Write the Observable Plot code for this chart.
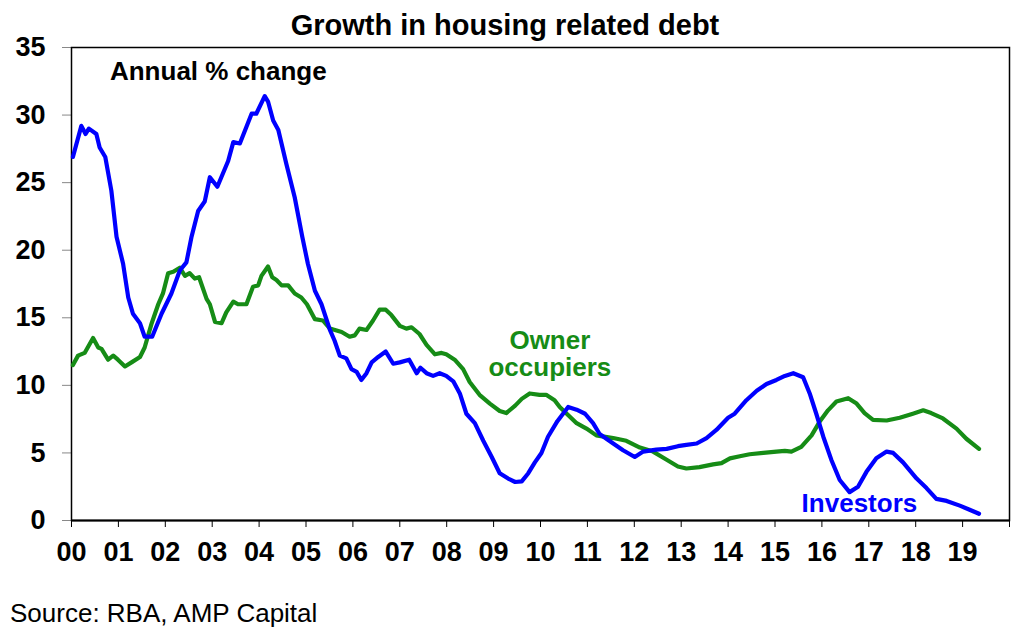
<!DOCTYPE html>
<html><head><meta charset="utf-8">
<script src="https://cdn.jsdelivr.net/npm/d3@7"></script>
<script src="https://cdn.jsdelivr.net/npm/@observablehq/plot@0.6"></script>
<style>
  body { margin: 0; background: #fff; font-family: "Liberation Sans", Arial, sans-serif; }
  #wrap { position: relative; width: 1024px; height: 640px; overflow: hidden; }
  #title { position: absolute; top: 9px; left: 0; width: 1010px; text-align: center;
           font-size: 29px; line-height: 33px; font-weight: bold; color: #000; z-index: 2; }
  #caption { margin-top: 18px; padding-left: 10px; font-size: 26px; line-height: 30px; color: #000; }
</style>
</head><body>
<div id="wrap">
  <div id="title">Growth in housing related debt</div>
  <div id="chart"></div>
  <div id="caption">Source: RBA, AMP Capital</div>
</div>
<script>
// Investors: annual % change in housing debt (decimal year, value)
const investorYears = [2000.03,2000.21,2000.30,2000.37,2000.53,2000.60,2000.72,2000.85,2000.96,2001.10,2001.21,2001.31,2001.46,2001.56,2001.72,2001.92,2002.13,2002.31,2002.45,2002.56,2002.70,2002.84,2002.95,2003.11,2003.34,2003.45,2003.59,2003.84,2003.94,2004.12,2004.19,2004.30,2004.41,2004.58,2004.76,2004.92,2005.04,2005.19,2005.33,2005.51,2005.61,2005.72,2005.86,2005.97,2006.08,2006.18,2006.29,2006.40,2006.54,2006.70,2006.86,2007.00,2007.20,2007.36,2007.44,2007.57,2007.71,2007.85,2007.99,2008.14,2008.28,2008.42,2008.60,2008.78,2008.96,2009.13,2009.31,2009.46,2009.60,2009.74,2009.88,2010.02,2010.16,2010.36,2010.59,2010.77,2010.95,2011.12,2011.26,2011.55,2011.76,2012.01,2012.19,2012.47,2012.69,2012.93,2013.11,2013.33,2013.54,2013.75,2014.00,2014.14,2014.39,2014.61,2014.82,2015.03,2015.21,2015.39,2015.60,2015.74,2015.88,2016.03,2016.20,2016.38,2016.59,2016.77,2016.95,2017.16,2017.38,2017.52,2017.73,2018.02,2018.23,2018.44,2018.66,2018.94,2019.15,2019.35];
const investorValues = [26.9,29.2,28.6,29.0,28.6,27.6,26.9,24.4,21.0,19.0,16.5,15.3,14.6,13.6,13.6,15.3,16.8,18.5,19.1,21.0,22.9,23.6,25.4,24.7,26.6,28.0,27.9,30.1,30.1,31.4,31.0,29.6,28.9,26.4,23.9,21.0,19.0,17.0,16.0,14.1,13.3,12.2,12.0,11.2,11.0,10.4,10.9,11.7,12.1,12.5,11.6,11.7,11.9,10.9,11.3,10.9,10.7,10.9,10.7,10.3,9.4,7.9,7.2,5.9,4.7,3.5,3.1,2.85,2.9,3.5,4.3,5.0,6.2,7.35,8.4,8.2,7.9,7.2,6.4,5.7,5.2,4.7,5.1,5.25,5.3,5.5,5.6,5.7,6.1,6.7,7.6,7.9,8.9,9.6,10.1,10.4,10.7,10.9,10.6,9.4,7.9,6.2,4.5,3.0,2.1,2.5,3.6,4.6,5.1,5.0,4.3,3.1,2.4,1.6,1.45,1.1,0.8,0.5];

// Owner occupiers
const ownerYears = [2000.03,2000.14,2000.28,2000.46,2000.57,2000.64,2000.78,2000.89,2000.99,2001.14,2001.28,2001.46,2001.56,2001.71,2001.85,2001.95,2002.06,2002.17,2002.31,2002.42,2002.52,2002.63,2002.72,2002.88,2002.95,2003.06,2003.20,2003.30,2003.45,2003.55,2003.73,2003.87,2003.98,2004.05,2004.19,2004.28,2004.37,2004.48,2004.62,2004.76,2004.90,2005.02,2005.19,2005.36,2005.51,2005.76,2005.93,2006.04,2006.14,2006.29,2006.43,2006.57,2006.70,2006.82,2007.00,2007.14,2007.25,2007.42,2007.57,2007.75,2007.89,2007.99,2008.17,2008.35,2008.49,2008.70,2008.92,2009.13,2009.27,2009.46,2009.60,2009.77,2009.98,2010.12,2010.30,2010.41,2010.77,2010.98,2011.19,2011.55,2011.83,2012.12,2012.40,2012.69,2012.93,2013.11,2013.39,2013.68,2013.86,2014.04,2014.25,2014.46,2014.75,2015.03,2015.21,2015.35,2015.56,2015.78,2015.95,2016.13,2016.31,2016.56,2016.74,2016.91,2017.09,2017.38,2017.66,2017.94,2018.16,2018.33,2018.58,2018.87,2019.08,2019.35];
const ownerValues = [11.5,12.2,12.4,13.5,12.8,12.7,11.9,12.2,11.9,11.4,11.7,12.1,12.8,14.6,16.0,16.8,18.3,18.4,18.7,18.1,18.3,17.9,18.0,16.4,16.0,14.7,14.6,15.4,16.2,16.0,16.0,17.3,17.4,18.1,18.8,18.0,17.8,17.4,17.4,16.8,16.5,16.0,14.9,14.8,14.2,13.95,13.6,13.7,14.2,14.1,14.8,15.6,15.6,15.2,14.4,14.2,14.3,13.8,13.0,12.3,12.4,12.3,11.9,11.2,10.25,9.3,8.65,8.1,7.95,8.5,9.0,9.4,9.3,9.3,8.9,8.4,7.2,6.8,6.3,6.1,5.9,5.4,5.1,4.5,4.0,3.85,3.95,4.15,4.25,4.6,4.75,4.9,5.0,5.1,5.15,5.1,5.45,6.3,7.3,8.15,8.8,9.05,8.65,7.95,7.45,7.4,7.6,7.9,8.15,7.95,7.55,6.8,6.05,5.3];

// Axis ticks and labels
const yTicks = [0, 5, 10, 15, 20, 25, 30, 35];
const xTicks = [2000,2001,2002,2003,2004,2005,2006,2007,2008,2009,2010,2011,2012,2013,2014,2015,2016,2017,2018,2019,2020];
const xTickLabels = ["00","01","02","03","04","05","06","07","08","09","10","11","12","13","14","15","16","17","18","19",""];

const BLUE = "#0000ff";
const GREEN = "#168c16";

const investors = investorYears.map((x, i) => ({x, v: investorValues[i]}));
const owners = ownerYears.map((x, i) => ({x, v: ownerValues[i]}));

const chart = Plot.plot({
  width: 1024,
  height: 580,
  marginTop: 47,
  marginBottom: 60,
  marginLeft: 71,
  marginRight: 15,
  style: { fontFamily: "'Liberation Sans', Arial, sans-serif", color: "#000", background: "#fff" },
  x: { domain: [2000, 2020] },
  y: { domain: [0, 35] },
  marks: [
    Plot.axisY({ ticks: yTicks, tickSize: 9, tickPadding: 17, fontSize: 27, fontWeight: "bold",
                 stroke: "#888", fill: "#000", label: null }),
    Plot.axisX({ ticks: xTicks, tickFormat: (d) => xTickLabels[xTicks.indexOf(d)], tickSize: 7,
                 tickPadding: 14, fontSize: 27, fontWeight: "bold", stroke: "#000", fill: "#000", label: null }),
    Plot.frame({ stroke: "#000", strokeWidth: 1.5 }),
    Plot.ruleY([0], { stroke: "#000", strokeWidth: 2 }),
    Plot.line(owners, { x: "x", y: "v", stroke: GREEN, strokeWidth: 4.2, strokeLinejoin: "round", strokeLinecap: "round" }),
    Plot.line(investors, { x: "x", y: "v", stroke: BLUE, strokeWidth: 4.2, strokeLinejoin: "round", strokeLinecap: "round" }),
    Plot.text(["Annual % change"], { x: 2000.82, y: 33.2, text: (d) => d, textAnchor: "start",
                 fontSize: 26, fontWeight: "bold", fill: "#000" }),
    Plot.text(["Owner"], { x: 2010.2, y: 13.3, text: (d) => d,
                 fontSize: 26, fontWeight: "bold", fill: GREEN }),
    Plot.text(["occupiers"], { x: 2010.2, y: 11.28, text: (d) => d,
                 fontSize: 26, fontWeight: "bold", fill: GREEN }),
    Plot.text(["Investors"], { x: 2016.8, y: 1.25, text: (d) => d,
                 fontSize: 26, fontWeight: "bold", fill: BLUE })
  ]
});
document.getElementById("chart").appendChild(chart);
</script>
</body></html>
